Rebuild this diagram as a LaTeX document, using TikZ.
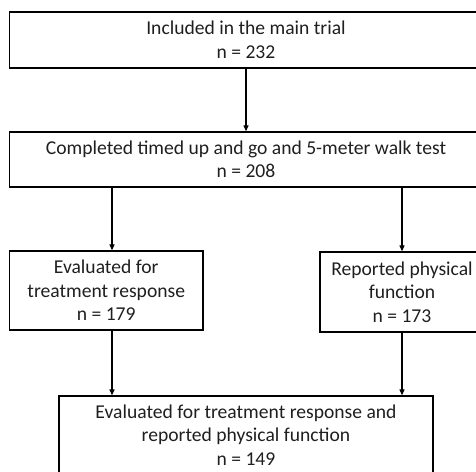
\documentclass[tikz,border=0pt]{standalone}
\usepackage{fontspec}
\setmainfont{Carlito}
\usetikzlibrary{arrows.meta}
\begin{document}
\begin{tikzpicture}[x=1pt,y=-1pt,
  box/.style={draw=black,line width=1.3pt,rectangle,inner sep=0pt,align=center,
    font=\fontsize{19.6}{23.5}\selectfont,text=black!88},
  arr/.style={line width=1.2pt,-{Triangle[length=6pt,width=5pt]}}]
\useasboundingbox (0,0) rectangle (476,471);
\clip (0,0) rectangle (476,471);
\node[box,minimum width=473pt,minimum height=56pt] (b1) at (246,40) {Included in the main trial\\n = 232};
\node[box,minimum width=473pt,minimum height=55pt] (b2) at (246,159.5) {Completed timed up and go and 5-meter walk test\\n = 208};
\node[box,minimum width=193.5pt,minimum height=79pt] (b3) at (106.25,290.5) {Evaluated for\\treatment response\\n = 179};
\node[box,minimum width=164pt,minimum height=80pt] (b4) at (402,292) {Reported physical\\function\\n = 173};
\node[box,minimum width=374pt,minimum height=78pt] (b5) at (246,435) {Evaluated for treatment response and\\reported physical function\\n = 149};
\coordinate (c1) at (112,0);
\draw[arr] (b1.south) -- (b2.north);
\draw[arr] (b2.south -| c1) -- (b3.north -| c1);
\draw[arr] (b2.south -| b4) -- (b4.north);
\draw[arr] (b3.south -| c1) -- (b5.north -| c1);
\draw[arr] (b4.south) -- (b5.north -| b4);
\end{tikzpicture}
\end{document}
